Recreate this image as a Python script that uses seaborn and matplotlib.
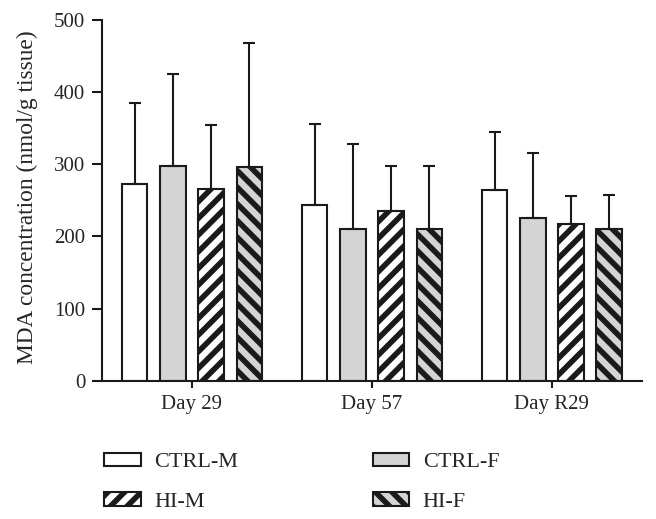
import matplotlib
matplotlib.use("Agg")
import matplotlib.pyplot as plt
import seaborn as sns
import pandas as pd

sns.set_style("ticks")
plt.rcParams['font.family'] = ['Liberation Serif', 'DejaVu Serif']
plt.rcParams['hatch.linewidth'] = 4.0
plt.rcParams['hatch.color'] = 'black'

# --- data ---
days = ['Day 29', 'Day 57', 'Day R29']
groups = ['CTRL-M', 'CTRL-F', 'HI-M', 'HI-F']
ctrl_m = [273, 243, 264]
ctrl_f = [298, 211, 225]
hi_m = [265, 235, 217]
hi_f = [296, 210, 210]
# upper error (SD)
ctrl_m_sd = [112, 113, 81]
ctrl_f_sd = [127, 117, 90]
hi_m_sd = [89, 62, 39]
hi_f_sd = [172, 87, 48]

means = [ctrl_m, ctrl_f, hi_m, hi_f]
sds = [ctrl_m_sd, ctrl_f_sd, hi_m_sd, hi_f_sd]

rows = []
for g, m, s in zip(groups, means, sds):
    for d, v, e in zip(days, m, s):
        rows.append({'Day': d, 'Group': g, 'MDA': v, 'SD': e})
df = pd.DataFrame(rows)

colors = {'CTRL-M': 'white', 'CTRL-F': '#d4d4d4', 'HI-M': 'white', 'HI-F': '#d4d4d4'}
hatches = ['', '', '//', '\\\\']

fig = plt.figure(figsize=(6.56, 5.19), dpi=100)
ax = fig.add_axes([0.1555, 0.266, 0.823, 0.696])

sns.barplot(data=df, x='Day', y='MDA', hue='Group', hue_order=groups, order=days,
            palette=colors, edgecolor='#1a1a1a', linewidth=1.5,
            width=0.85, gap=0.33, errorbar=None, ax=ax, legend=False)

bar_conts = list(ax.containers)
for cont, hatch, sd in zip(bar_conts, hatches, sds):
    for bar, e in zip(cont, sd):
        bar.set_hatch(hatch)
        xc = bar.get_x() + bar.get_width() / 2
        ax.errorbar(xc, bar.get_height(), yerr=[[0], [e]], fmt='none',
                    ecolor='#1a1a1a', elinewidth=1.5, capsize=4, capthick=1.5, zorder=1)

ax.set_ylim(0, 500)
ax.set_xlim(-0.5, 2.5)
ax.set_yticks([0, 100, 200, 300, 400, 500])
ax.set_xlabel('')
ax.set_ylabel('MDA concentration (nmol/g tissue)', fontsize=16.8)
ax.yaxis.set_label_coords(-0.119, 0.51)
ax.tick_params(axis='y', length=7, width=1.5, labelsize=15, color='#1a1a1a', pad=5)
ax.tick_params(axis='x', length=5, width=1.5, labelsize=15, color='#1a1a1a', pad=5)
for sp in ['left', 'bottom']:
    ax.spines[sp].set_linewidth(1.5)
    ax.spines[sp].set_color('#1a1a1a')
sns.despine(ax=ax)

handles = [c.patches[0] for c in bar_conts]
order = [0, 2, 1, 3]
fig.legend([handles[i] for i in order], [groups[i] for i in order],
           loc='upper left', bbox_to_anchor=(0.159, 0.128), ncol=2, frameon=False,
           fontsize=16, handlelength=1.65, handleheight=0.55, labelspacing=0.9,
           columnspacing=6.05, handletextpad=0.6, borderaxespad=0, borderpad=0)

fig.savefig('out.png', dpi=100)
